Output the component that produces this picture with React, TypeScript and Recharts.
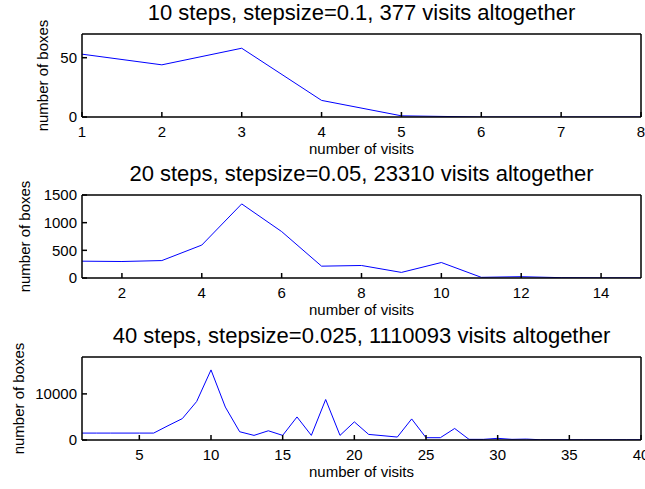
import React from 'react';
import { LineChart, Line, XAxis, YAxis, Label } from 'recharts';

const FONT = '"Liberation Sans", Arial, Helvetica, sans-serif';

// Panel 1: 10 steps
const title1 = '10 steps, stepsize=0.1, 377 visits altogether';
const visits1 = [1, 2, 3, 4, 5, 6, 7, 8];
const boxes1 = [53, 44, 58, 14, 1, 0, 0, 0];
const xTicks1 = [1, 2, 3, 4, 5, 6, 7, 8];
const yTicks1 = [0, 50];

// Panel 2: 20 steps
const title2 = '20 steps, stepsize=0.05, 23310 visits altogether';
const visits2 = [1, 2, 3, 4, 5, 6, 7, 8, 9, 10, 11, 12, 13, 14, 15];
const boxes2 = [304, 298, 315, 595, 1339, 839, 214, 226, 101, 280, 12, 24, 6, 3, 2];
const xTicks2 = [2, 4, 6, 8, 10, 12, 14];
const yTicks2 = [0, 500, 1000, 1500];

// Panel 3: 40 steps
const title3 = '40 steps, stepsize=0.025, 1110093 visits altogether';
const visits3 = [
  1, 2, 3, 4, 5, 6, 7, 8, 9, 10, 11, 12, 13, 14, 15, 16, 17, 18, 19, 20,
  21, 22, 23, 24, 25, 26, 27, 28, 29, 30, 31, 32, 33, 34, 35, 36, 37, 38, 39, 40,
];
const boxes3 = [
  1500, 1500, 1500, 1500, 1500, 1500, 3100, 4640, 8350, 15200,
  7140, 1790, 1000, 2000, 1000, 5000, 1000, 8780, 1000, 3930,
  1210, 930, 640, 4570, 500, 500, 2500, 140, 140, 360,
  140, 200, 50, 50, 50, 50, 50, 50, 50, 50,
];
const xTicks3 = [5, 10, 15, 20, 25, 30, 35, 40];
const yTicks3 = [0, 10000];

const xLabel = 'number of visits';
const yLabel = 'number of boxes';

type PanelProps = {
  top: number;
  title: string;
  xs: number[];
  ys: number[];
  xDomain: [number, number];
  yDomain: [number, number];
  xTicks: number[];
  yTicks: number[];
  yLabelX: number;
};

const tickStyle = { fill: '#000', fontSize: 15, fontFamily: FONT };

function Panel({ top, title, xs, ys, xDomain, yDomain, xTicks, yTicks, yLabelX }: PanelProps) {
  const data = xs.map((x, i) => ({ x, y: ys[i] }));
  return (
    <div style={{ position: 'absolute', left: 0, top }}>
      <LineChart width={645} height={157} data={data} margin={{ top: 33, right: 0, bottom: 0, left: 0 }}>
        <XAxis
          xAxisId="b"
          dataKey="x"
          type="number"
          orientation="bottom"
          domain={xDomain}
          ticks={xTicks}
          allowDataOverflow
          interval={0}
          height={40}
          tickSize={-5}
          tickMargin={14}
          stroke="#000"
          strokeWidth={1.5}
          tick={tickStyle}
        >
          <Label value={xLabel} position="insideBottom" offset={3} fill="#000" fontSize={15} fontFamily={FONT} />
        </XAxis>
        <XAxis
          xAxisId="t"
          dataKey="x"
          type="number"
          orientation="top"
          domain={xDomain}
          ticks={xTicks}
          allowDataOverflow
          interval={0}
          height={1}
          tickSize={-5}
          stroke="#000"
          strokeWidth={1.5}
          tick={false}
        >
          <Label value={title} position="top" offset={13} fill="#000" fontSize={22} fontFamily={FONT} />
        </XAxis>
        <YAxis
          yAxisId="l"
          dataKey="y"
          type="number"
          orientation="left"
          domain={yDomain}
          ticks={yTicks}
          allowDataOverflow
          interval={0}
          width={82}
          tickSize={-5}
          tickMargin={10}
          stroke="#000"
          strokeWidth={1.5}
          tick={tickStyle}
        >
          <Label
            value={yLabel}
            angle={-90}
            position="insideLeft"
            offset={yLabelX}
            fill="#000"
            fontSize={15}
            fontFamily={FONT}
            style={{ textAnchor: 'middle' }}
          />
        </YAxis>
        <YAxis
          yAxisId="r"
          dataKey="y"
          type="number"
          orientation="right"
          domain={yDomain}
          ticks={yTicks}
          allowDataOverflow
          interval={0}
          width={4}
          tickSize={-5}
          stroke="#000"
          strokeWidth={1.5}
          tick={false}
        />
        <Line
          xAxisId="b"
          yAxisId="l"
          type="linear"
          dataKey="y"
          stroke="#0000ff"
          strokeWidth={1}
          dot={false}
          activeDot={false}
          isAnimationActive={false}
        />
      </LineChart>
    </div>
  );
}

export default function App() {
  return (
    <div style={{ position: 'absolute', left: 0, top: 0, width: 645, height: 489, background: '#fff', overflow: 'hidden' }}>
      <Panel top={0} title={title1} xs={visits1} ys={boxes1} xDomain={[1, 8]} yDomain={[0, 70]} xTicks={xTicks1} yTicks={yTicks1} yLabelX={43} />
      <Panel top={161} title={title2} xs={visits2} ys={boxes2} xDomain={[1, 15]} yDomain={[0, 1500]} xTicks={xTicks2} yTicks={yTicks2} yLabelX={25} />
      <Panel top={323} title={title3} xs={visits3} ys={boxes3} xDomain={[1, 40]} yDomain={[0, 18000]} xTicks={xTicks3} yTicks={yTicks3} yLabelX={19} />
    </div>
  );
}
